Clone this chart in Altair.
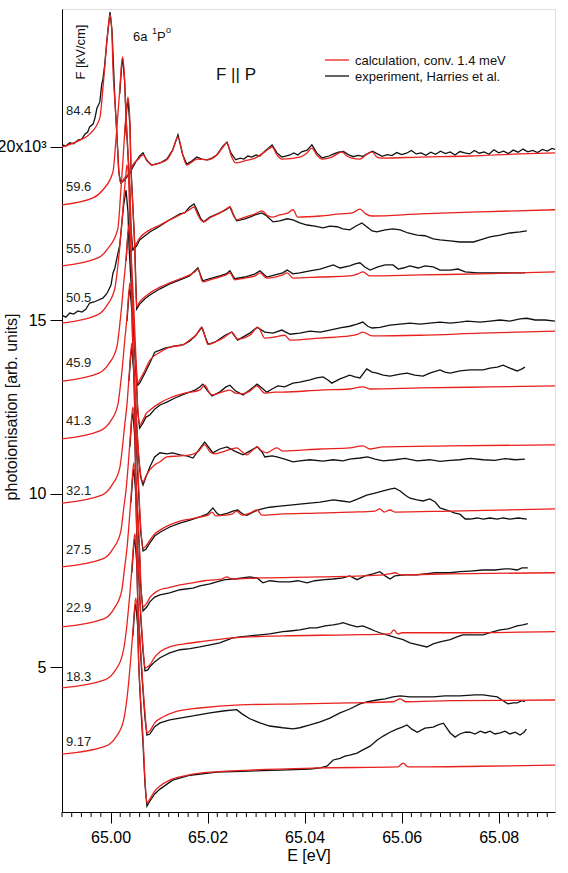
import altair as alt
import pandas as pd

FONT = "Liberation Sans"

# Field strengths [kV/cm] labelling each spectrum, vertical offsets (x10^3) and label heights
FIELDS = ["84.4", "59.6", "55.0", "50.5", "45.9", "41.3", "32.1", "27.5", "22.9", "18.3", "9.17"]
OFFSETS = [20.00, 18.33, 16.57, 14.92, 13.25, 11.58, 9.73, 7.89, 6.16, 4.40, 2.49]
LABEL_Y = [21.04, 18.85, 17.06, 15.64, 13.77, 12.10, 10.08, 8.38, 6.70, 4.71, 2.84]

# ---- calculation (red) and experiment (black), pairs of (E [eV], signal relative to offset) ----
CALC_84_4 = [(64.9900, 0.00), (64.9937, 0.20), (64.9957, 0.37), (64.9978, 0.84), (64.9984, 1.64), (64.9988, 2.28),
             (64.9992, 2.97), (64.9997, 3.66), (64.9999, 3.81), (65.0003, 3.23), (65.0005, 2.28), (65.0009, 1.33),
             (65.0013, 0.37), (65.0017, -0.66), (65.0021, -1.04), (65.0029, -0.89), (65.0040, -0.72), (65.0046, -0.52),
             (65.0056, -0.37), (65.0067, -0.23), (65.0075, -0.37), (65.0085, -0.52), (65.0102, -0.46), (65.0116, -0.37),
             (65.0128, -0.09), (65.0139, 0.29), (65.0149, -0.23), (65.0157, -0.52), (65.0168, -0.43), (65.0178, -0.35),
             (65.0199, -0.37), (65.0219, -0.23), (65.0232, 0.00), (65.0240, 0.12), (65.0248, -0.23), (65.0258, -0.46),
             (65.0277, -0.40), (65.0298, -0.32), (65.0318, -0.14), (65.0333, 0.00), (65.0343, -0.23), (65.0353, -0.35),
             (65.0390, -0.29), (65.0405, -0.17), (65.0415, -0.03), (65.0425, -0.23), (65.0436, -0.35), (65.0456, -0.29),
             (65.0477, -0.14), (65.0487, -0.26), (65.0497, -0.32), (65.0514, -0.35), (65.0526, -0.23), (65.0539, -0.14),
             (65.0549, -0.29), (65.0559, -0.32), (65.0638, -0.29), (65.0741, -0.26), (65.0844, -0.20), (65.0916, -0.17)]
EXP_84_4 = [(64.9900, 0.06), (64.9908, 0.03), (64.9916, 0.12), (64.9924, 0.09), (64.9933, 0.20), (64.9941, 0.23),
            (64.9947, 0.37), (64.9953, 0.43), (64.9957, 0.58), (64.9964, 0.66), (64.9968, 0.84), (64.9972, 1.12),
            (64.9978, 1.30), (64.9982, 1.82), (64.9984, 1.93), (64.9988, 2.36), (64.9992, 3.00), (64.9999, 3.89),
            (65.0003, 3.37), (65.0009, 1.36), (65.0013, 0.40), (65.0017, -0.72), (65.0021, -1.04), (65.0029, -0.95),
            (65.0040, -0.75), (65.0046, -0.58), (65.0052, -0.43), (65.0060, -0.26), (65.0067, -0.17), (65.0075, -0.40),
            (65.0085, -0.52), (65.0102, -0.46), (65.0116, -0.35), (65.0128, -0.09), (65.0139, 0.35), (65.0149, -0.23),
            (65.0157, -0.49), (65.0168, -0.40), (65.0178, -0.29), (65.0188, -0.35), (65.0199, -0.37), (65.0209, -0.32),
            (65.0219, -0.23), (65.0232, 0.03), (65.0240, 0.14), (65.0248, -0.17), (65.0258, -0.37), (65.0267, -0.32),
            (65.0275, -0.35), (65.0283, -0.26), (65.0291, -0.29), (65.0300, -0.23), (65.0308, -0.26), (65.0318, -0.12),
            (65.0333, 0.06), (65.0343, -0.17), (65.0353, -0.29), (65.0361, -0.26), (65.0370, -0.23), (65.0378, -0.17),
            (65.0386, -0.23), (65.0394, -0.14), (65.0405, -0.09), (65.0415, 0.06), (65.0425, -0.17), (65.0436, -0.32),
            (65.0440, -0.30), (65.0450, -0.26), (65.0460, -0.20), (65.0470, -0.15), (65.0480, -0.13), (65.0490, -0.22),
            (65.0500, -0.28), (65.0510, -0.24), (65.0520, -0.27), (65.0530, -0.19), (65.0540, -0.12), (65.0550, -0.20),
            (65.0560, -0.27), (65.0570, -0.22), (65.0580, -0.25), (65.0590, -0.16), (65.0600, -0.22), (65.0610, -0.18),
            (65.0620, -0.10), (65.0630, -0.20), (65.0640, -0.17), (65.0650, -0.24), (65.0660, -0.15), (65.0670, -0.21),
            (65.0680, -0.12), (65.0690, -0.19), (65.0700, -0.14), (65.0710, -0.23), (65.0720, -0.13), (65.0730, -0.17),
            (65.0740, -0.20), (65.0750, -0.10), (65.0760, -0.18), (65.0770, -0.14), (65.0780, -0.21), (65.0790, -0.08),
            (65.0800, -0.17), (65.0810, -0.12), (65.0820, -0.19), (65.0830, -0.09), (65.0840, -0.15), (65.0850, -0.06),
            (65.0860, -0.14), (65.0870, -0.10), (65.0880, -0.16), (65.0890, -0.07), (65.0900, -0.12), (65.0910, -0.04),
            (65.0916, -0.07)]

CALC_59_6 = [(64.9900, 0.00), (64.9964, 0.20), (64.9984, 0.43), (65.0005, 0.95), (65.0011, 1.85), (65.0015, 2.57),
             (65.0019, 3.32), (65.0023, 4.10), (65.0025, 4.27), (65.0029, 3.63), (65.0032, 2.57), (65.0036, 1.50),
             (65.0040, 0.43), (65.0042, -0.58), (65.0046, -1.24), (65.0054, -1.10), (65.0060, -0.95), (65.0071, -0.81),
             (65.0081, -0.72), (65.0102, -0.58), (65.0122, -0.43), (65.0143, -0.29), (65.0163, -0.14), (65.0172, -0.06),
             (65.0178, -0.23), (65.0186, -0.43), (65.0192, -0.49), (65.0205, -0.37), (65.0225, -0.23), (65.0238, -0.12),
             (65.0246, -0.06), (65.0254, -0.29), (65.0260, -0.43), (65.0277, -0.35), (65.0298, -0.26), (65.0312, -0.17),
             (65.0322, -0.29), (65.0333, -0.35), (65.0349, -0.29), (65.0366, -0.23), (65.0376, -0.14), (65.0386, -0.35),
             (65.0432, -0.32), (65.0473, -0.26), (65.0498, -0.23), (65.0514, -0.12), (65.0526, -0.26), (65.0539, -0.32),
             (65.0638, -0.26), (65.0762, -0.20), (65.0916, -0.14)]
EXP_59_6 = [(65.0019, 3.20), (65.0023, 4.04), (65.0025, 4.21), (65.0029, 3.58), (65.0032, 2.50), (65.0036, 1.44),
            (65.0040, 0.35), (65.0042, -0.66), (65.0046, -1.30), (65.0054, -1.18), (65.0060, -1.01), (65.0071, -0.89),
            (65.0081, -0.78), (65.0102, -0.61), (65.0122, -0.43), (65.0143, -0.26), (65.0153, -0.23), (65.0163, -0.06),
            (65.0172, 0.03), (65.0178, -0.14), (65.0186, -0.40), (65.0192, -0.49), (65.0205, -0.35), (65.0225, -0.23),
            (65.0238, -0.14), (65.0246, -0.06), (65.0254, -0.32), (65.0260, -0.46), (65.0277, -0.40), (65.0287, -0.35),
            (65.0298, -0.29), (65.0312, -0.23), (65.0322, -0.32), (65.0335, -0.49), (65.0349, -0.46), (65.0364, -0.40),
            (65.0376, -0.43), (65.0390, -0.52), (65.0405, -0.58), (65.0421, -0.61), (65.0438, -0.66), (65.0452, -0.61),
            (65.0467, -0.63), (65.0479, -0.69), (65.0493, -0.72), (65.0506, -0.61), (65.0518, -0.52), (65.0528, -0.63),
            (65.0539, -0.75), (65.0549, -0.78), (65.0566, -0.72), (65.0582, -0.69), (65.0597, -0.72), (65.0613, -0.81),
            (65.0632, -0.87), (65.0648, -0.89), (65.0665, -0.98), (65.0679, -1.01), (65.0700, -1.04), (65.0720, -1.07),
            (65.0748, -1.07), (65.0762, -1.01), (65.0782, -0.92), (65.0803, -0.87), (65.0823, -0.81), (65.0844, -0.78),
            (65.0858, -0.75)]

CALC_55_0 = [(64.9900, 0.00), (64.9974, 0.23), (64.9994, 0.49), (65.0015, 1.07), (65.0021, 2.11), (65.0025, 2.91),
             (65.0029, 3.81), (65.0034, 4.67), (65.0036, 4.87), (65.0040, 4.15), (65.0042, 2.91), (65.0046, 1.70),
             (65.0050, 0.49), (65.0052, -0.58), (65.0054, -1.18), (65.0060, -1.04), (65.0071, -0.89), (65.0081, -0.78),
             (65.0102, -0.61), (65.0122, -0.49), (65.0143, -0.37), (65.0163, -0.26), (65.0174, -0.17), (65.0180, -0.09),
             (65.0190, -0.46), (65.0205, -0.40), (65.0225, -0.32), (65.0238, -0.26), (65.0246, -0.20), (65.0256, -0.40),
             (65.0277, -0.35), (65.0298, -0.29), (65.0308, -0.20), (65.0322, -0.35), (65.0339, -0.32), (65.0355, -0.26),
             (65.0364, -0.20), (65.0376, -0.35), (65.0432, -0.32), (65.0493, -0.29), (65.0510, -0.23), (65.0520, -0.17),
             (65.0535, -0.29), (65.0638, -0.26), (65.0762, -0.23), (65.0916, -0.17)]
EXP_55_0 = [(65.0029, 3.75), (65.0034, 4.61), (65.0036, 4.79), (65.0040, 4.04), (65.0042, 2.88), (65.0046, 1.73),
            (65.0050, 0.58), (65.0052, -0.43), (65.0054, -1.24), (65.0060, -1.10), (65.0071, -0.95), (65.0081, -0.84),
            (65.0102, -0.66), (65.0122, -0.52), (65.0143, -0.40), (65.0163, -0.29), (65.0174, -0.14), (65.0180, -0.06),
            (65.0190, -0.43), (65.0205, -0.37), (65.0225, -0.29), (65.0238, -0.23), (65.0246, -0.14), (65.0256, -0.37),
            (65.0277, -0.32), (65.0298, -0.23), (65.0308, -0.14), (65.0322, -0.32), (65.0339, -0.26), (65.0355, -0.20),
            (65.0364, -0.12), (65.0376, -0.23), (65.0390, -0.20), (65.0411, -0.14), (65.0432, -0.09), (65.0459, 0.03),
            (65.0473, -0.06), (65.0493, 0.00), (65.0504, 0.06), (65.0514, 0.09), (65.0524, -0.03), (65.0535, -0.12),
            (65.0551, -0.03), (65.0566, 0.03), (65.0582, 0.03), (65.0593, -0.09), (65.0603, -0.06), (65.0617, 0.00),
            (65.0634, -0.06), (65.0648, 0.00), (65.0665, -0.03), (65.0679, -0.12), (65.0700, -0.12), (65.0716, -0.09),
            (65.0731, -0.17), (65.0756, -0.20), (65.0782, -0.20), (65.0803, -0.20), (65.0823, -0.20), (65.0854, -0.20)]

CALC_50_5 = [(64.9900, 0.00), (64.9972, 0.23), (64.9992, 0.50), (65.0009, 1.01), (65.0015, 1.64), (65.0019, 2.19),
             (65.0023, 2.83), (65.0027, 3.55), (65.0032, 4.33), (65.0034, 4.56), (65.0038, 3.86), (65.0040, 2.74),
             (65.0044, 1.59), (65.0048, 0.46), (65.0052, -0.87), (65.0056, -1.73), (65.0060, -1.64), (65.0071, -1.36),
             (65.0081, -1.07), (65.0102, -0.84), (65.0122, -0.69), (65.0149, -0.63), (65.0163, -0.49), (65.0176, -0.35),
             (65.0188, -0.12), (65.0201, -0.61), (65.0215, -0.55), (65.0236, -0.40), (65.0250, -0.26), (65.0262, -0.46),
             (65.0287, -0.35), (65.0304, -0.12), (65.0318, -0.43), (65.0339, -0.40), (65.0359, -0.35), (65.0370, -0.49),
             (65.0432, -0.43), (65.0493, -0.37), (65.0510, -0.32), (65.0520, -0.26), (65.0539, -0.37), (65.0638, -0.35),
             (65.0762, -0.29), (65.0916, -0.23)]
EXP_50_5 = [(64.9900, 0.23), (64.9908, 0.17), (64.9916, 0.29), (64.9924, 0.26), (64.9933, 0.35), (64.9941, 0.32),
            (64.9949, 0.40), (64.9957, 0.58), (64.9966, 0.61), (64.9974, 0.66), (64.9984, 0.72), (64.9990, 0.81),
            (64.9994, 0.89), (65.0001, 1.10), (65.0005, 1.44), (65.0009, 1.59), (65.0013, 1.87), (65.0019, 2.25),
            (65.0023, 2.83), (65.0027, 3.40), (65.0032, 3.84), (65.0036, 3.20), (65.0038, 2.25), (65.0042, 1.24),
            (65.0046, 0.23), (65.0050, -0.78), (65.0054, -1.59), (65.0056, -1.79), (65.0060, -1.73), (65.0071, -1.44),
            (65.0081, -1.15), (65.0091, -0.84), (65.0102, -0.78), (65.0112, -0.72), (65.0122, -0.69), (65.0133, -0.66),
            (65.0149, -0.63), (65.0163, -0.52), (65.0176, -0.35), (65.0188, -0.12), (65.0201, -0.61), (65.0215, -0.55),
            (65.0236, -0.35), (65.0250, -0.26), (65.0262, -0.49), (65.0287, -0.29), (65.0302, -0.12), (65.0318, -0.26),
            (65.0335, -0.29), (65.0353, -0.20), (65.0370, -0.32), (65.0390, -0.29), (65.0411, -0.23), (65.0432, -0.26),
            (65.0452, -0.20), (65.0473, -0.14), (65.0493, -0.09), (65.0508, -0.03), (65.0520, 0.03), (65.0530, -0.09),
            (65.0539, -0.14), (65.0555, -0.12), (65.0576, -0.06), (65.0597, -0.03), (65.0617, 0.00), (65.0638, -0.03),
            (65.0658, 0.00), (65.0679, 0.03), (65.0700, 0.00), (65.0720, 0.03), (65.0735, 0.06), (65.0762, 0.03),
            (65.0782, 0.06), (65.0803, 0.09), (65.0823, 0.06), (65.0844, 0.12), (65.0858, 0.14), (65.0875, 0.09),
            (65.0896, 0.09), (65.0916, 0.06)]

CALC_45_9 = [(64.9900, 0.00), (64.9976, 0.23), (64.9996, 0.49), (65.0013, 0.98), (65.0019, 1.62), (65.0023, 2.16),
             (65.0027, 2.80), (65.0032, 3.52), (65.0036, 4.27), (65.0038, 4.50), (65.0042, 3.84), (65.0044, 2.71),
             (65.0048, 1.59), (65.0052, 0.46), (65.0056, -0.75), (65.0060, -1.27), (65.0067, -1.12), (65.0073, -0.95),
             (65.0081, -0.84), (65.0102, -0.63), (65.0122, -0.49), (65.0153, -0.35), (65.0184, -0.26), (65.0194, -0.12),
             (65.0203, -0.32), (65.0209, -0.40), (65.0229, -0.32), (65.0246, -0.26), (65.0258, -0.35), (65.0273, -0.37),
             (65.0287, -0.29), (65.0302, -0.14), (65.0312, -0.29), (65.0318, -0.35), (65.0339, -0.32), (65.0355, -0.32),
             (65.0432, -0.26), (65.0493, -0.23), (65.0520, -0.17), (65.0535, -0.23), (65.0638, -0.20), (65.0782, -0.17),
             (65.0916, -0.14)]
EXP_45_9 = [(65.0032, 3.46), (65.0036, 4.27), (65.0038, 4.38), (65.0042, 3.75), (65.0044, 2.65), (65.0048, 1.50),
            (65.0052, 0.35), (65.0056, -0.87), (65.0060, -1.36), (65.0067, -1.21), (65.0073, -1.04), (65.0081, -0.98),
            (65.0091, -0.81), (65.0102, -0.69), (65.0116, -0.61), (65.0133, -0.49), (65.0153, -0.37), (65.0174, -0.26),
            (65.0184, -0.17), (65.0190, -0.09), (65.0199, -0.26), (65.0209, -0.43), (65.0225, -0.32), (65.0238, -0.17),
            (65.0246, -0.12), (65.0258, -0.29), (65.0273, -0.40), (65.0287, -0.26), (65.0302, -0.09), (65.0312, -0.20),
            (65.0322, -0.32), (65.0333, -0.23), (65.0345, -0.14), (65.0359, -0.17), (65.0376, -0.06), (65.0390, -0.03),
            (65.0411, 0.03), (65.0425, 0.09), (65.0438, 0.12), (65.0448, 0.03), (65.0456, -0.06), (65.0473, 0.06),
            (65.0493, 0.17), (65.0504, 0.12), (65.0514, 0.09), (65.0528, 0.35), (65.0539, 0.26), (65.0549, 0.23),
            (65.0562, 0.17), (65.0576, 0.14), (65.0597, 0.20), (65.0611, 0.23), (65.0627, 0.17), (65.0644, 0.14),
            (65.0658, 0.23), (65.0679, 0.32), (65.0689, 0.26), (65.0700, 0.23), (65.0720, 0.29), (65.0741, 0.32),
            (65.0768, 0.32), (65.0782, 0.37), (65.0797, 0.40), (65.0809, 0.46), (65.0823, 0.37), (65.0838, 0.29),
            (65.0848, 0.35), (65.0854, 0.40)]

CALC_41_3 = [(64.9900, 0.00), (64.9978, 0.23), (64.9999, 0.49), (65.0015, 0.98), (65.0021, 1.62), (65.0025, 2.16),
             (65.0029, 2.80), (65.0034, 3.52), (65.0038, 4.27), (65.0040, 4.50), (65.0044, 3.84), (65.0046, 2.71),
             (65.0050, 1.59), (65.0054, 0.46), (65.0058, -0.43), (65.0062, -1.01), (65.0067, -1.24), (65.0073, -1.07),
             (65.0081, -0.89), (65.0091, -0.75), (65.0102, -0.66), (65.0116, -0.52), (65.0143, -0.49), (65.0164, -0.46),
             (65.0180, -0.37), (65.0194, -0.17), (65.0205, -0.37), (65.0215, -0.43), (65.0236, -0.35), (65.0250, -0.29),
             (65.0260, -0.26), (65.0271, -0.37), (65.0281, -0.46), (65.0291, -0.35), (65.0302, -0.23), (65.0312, -0.35),
             (65.0322, -0.40), (65.0333, -0.32), (65.0343, -0.26), (65.0355, -0.35), (65.0432, -0.29), (65.0493, -0.26),
             (65.0520, -0.20), (65.0535, -0.29), (65.0562, -0.23), (65.0700, -0.20), (65.0916, -0.17)]
EXP_41_3 = [(65.0034, 3.40), (65.0038, 4.21), (65.0040, 4.33), (65.0044, 3.69), (65.0046, 2.60), (65.0050, 1.44),
            (65.0054, 0.35), (65.0058, -0.58), (65.0062, -1.10), (65.0067, -1.33), (65.0073, -1.10), (65.0081, -0.81),
            (65.0091, -0.52), (65.0102, -0.40), (65.0116, -0.43), (65.0128, -0.40), (65.0143, -0.46), (65.0157, -0.49),
            (65.0170, -0.55), (65.0180, -0.35), (65.0194, -0.09), (65.0205, -0.29), (65.0211, -0.40), (65.0225, -0.29),
            (65.0240, -0.23), (65.0256, -0.35), (65.0273, -0.46), (65.0287, -0.35), (65.0302, -0.23), (65.0312, -0.37),
            (65.0318, -0.52), (65.0333, -0.49), (65.0343, -0.52), (65.0359, -0.58), (65.0376, -0.66), (65.0390, -0.63),
            (65.0411, -0.60), (65.0438, -0.64), (65.0459, -0.60), (65.0479, -0.63), (65.0493, -0.58), (65.0514, -0.55),
            (65.0530, -0.52), (65.0545, -0.58), (65.0562, -0.63), (65.0586, -0.60), (65.0607, -0.56), (65.0632, -0.63),
            (65.0658, -0.60), (65.0679, -0.65), (65.0700, -0.62), (65.0720, -0.60), (65.0741, -0.56), (65.0768, -0.60),
            (65.0792, -0.62), (65.0813, -0.57), (65.0834, -0.60), (65.0854, -0.58)]

CALC_32_1 = [(64.9900, 0.00), (64.9982, 0.23), (65.0003, 0.52), (65.0019, 1.01), (65.0025, 1.67), (65.0029, 2.22),
             (65.0034, 2.86), (65.0038, 3.61), (65.0042, 4.38), (65.0044, 4.61), (65.0048, 3.92), (65.0050, 2.77),
             (65.0054, 1.62), (65.0058, 0.46), (65.0062, -0.63), (65.0067, -1.30), (65.0073, -1.24), (65.0081, -1.07),
             (65.0091, -0.89), (65.0102, -0.78), (65.0122, -0.63), (65.0143, -0.52), (65.0164, -0.46), (65.0184, -0.40),
             (65.0201, -0.35), (65.0209, -0.26), (65.0217, -0.37), (65.0236, -0.35), (65.0250, -0.32), (65.0260, -0.23),
             (65.0271, -0.35), (65.0287, -0.29), (65.0302, -0.20), (65.0312, -0.35), (65.0349, -0.32), (65.0425, -0.29),
             (65.0493, -0.26), (65.0545, -0.23), (65.0555, -0.17), (65.0564, -0.26), (65.0576, -0.20), (65.0586, -0.26),
             (65.0700, -0.23), (65.0916, -0.17)]
EXP_32_1 = [(65.0038, 3.52), (65.0042, 4.33), (65.0044, 4.47), (65.0048, 3.75), (65.0050, 2.60), (65.0054, 1.44),
            (65.0058, 0.29), (65.0062, -0.81), (65.0067, -1.38), (65.0073, -1.33), (65.0081, -1.15), (65.0091, -0.95),
            (65.0102, -0.84), (65.0122, -0.69), (65.0143, -0.58), (65.0164, -0.49), (65.0184, -0.40), (65.0199, -0.32),
            (65.0211, -0.14), (65.0219, -0.29), (65.0225, -0.35), (65.0242, -0.29), (65.0252, -0.23), (65.0262, -0.20),
            (65.0273, -0.32), (65.0281, -0.35), (65.0298, -0.23), (65.0312, -0.17), (65.0328, -0.12), (65.0349, -0.09),
            (65.0370, -0.06), (65.0390, -0.03), (65.0411, 0.00), (65.0432, 0.03), (65.0459, 0.09), (65.0477, 0.06),
            (65.0493, 0.03), (65.0510, 0.12), (65.0528, 0.23), (65.0545, 0.29), (65.0562, 0.35), (65.0576, 0.40),
            (65.0586, 0.43), (65.0597, 0.35), (65.0607, 0.23), (65.0617, 0.14), (65.0632, 0.09), (65.0644, 0.06),
            (65.0658, 0.12), (65.0669, 0.03), (65.0679, -0.14), (65.0693, -0.20), (65.0710, -0.29), (65.0720, -0.32),
            (65.0731, -0.46), (65.0741, -0.46), (65.0756, -0.43), (65.0768, -0.46), (65.0782, -0.43), (65.0797, -0.46),
            (65.0809, -0.43), (65.0823, -0.46), (65.0840, -0.43), (65.0858, -0.46)]

CALC_27_5 = [(64.9900, 0.00), (64.9984, 0.23), (65.0005, 0.52), (65.0021, 1.01), (65.0027, 1.67), (65.0032, 2.22),
             (65.0036, 2.86), (65.0040, 3.61), (65.0044, 4.38), (65.0046, 4.61), (65.0050, 3.92), (65.0052, 2.77),
             (65.0056, 1.62), (65.0060, 0.46), (65.0062, -0.29), (65.0067, -1.15), (65.0075, -1.04), (65.0081, -0.89),
             (65.0091, -0.75), (65.0102, -0.66), (65.0116, -0.61), (65.0143, -0.52), (65.0170, -0.46), (65.0194, -0.40),
             (65.0219, -0.37), (65.0229, -0.35), (65.0240, -0.29), (65.0250, -0.35), (65.0308, -0.32), (65.0432, -0.29),
             (65.0562, -0.23), (65.0576, -0.20), (65.0586, -0.17), (65.0597, -0.23), (65.0700, -0.20), (65.0916, -0.17)]
EXP_27_5 = [(65.0040, 3.46), (65.0044, 4.33), (65.0046, 4.44), (65.0050, 3.75), (65.0052, 2.60), (65.0056, 1.44),
            (65.0060, 0.29), (65.0062, -0.52), (65.0067, -1.27), (65.0075, -1.15), (65.0081, -1.01), (65.0091, -0.87),
            (65.0102, -0.81), (65.0122, -0.75), (65.0143, -0.66), (65.0170, -0.61), (65.0184, -0.55), (65.0205, -0.49),
            (65.0219, -0.43), (65.0236, -0.37), (65.0256, -0.35), (65.0287, -0.29), (65.0302, -0.32), (65.0314, -0.46),
            (65.0328, -0.40), (65.0349, -0.43), (65.0370, -0.43), (65.0386, -0.40), (65.0405, -0.46), (65.0421, -0.40),
            (65.0442, -0.37), (65.0459, -0.35), (65.0479, -0.32), (65.0493, -0.26), (65.0508, -0.37), (65.0524, -0.26),
            (65.0541, -0.20), (65.0555, -0.14), (65.0566, -0.26), (65.0576, -0.35), (65.0586, -0.26), (65.0607, -0.23),
            (65.0632, -0.23), (65.0648, -0.20), (65.0669, -0.17), (65.0700, -0.17), (65.0720, -0.14), (65.0741, -0.12),
            (65.0768, -0.09), (65.0792, -0.09), (65.0813, -0.06), (65.0823, -0.06), (65.0838, -0.09), (65.0848, -0.03),
            (65.0860, -0.03)]

CALC_22_9 = [(64.9900, 0.00), (64.9986, 0.23), (65.0007, 0.52), (65.0023, 1.04), (65.0029, 1.70), (65.0034, 2.28),
             (65.0038, 2.94), (65.0042, 3.69), (65.0046, 4.50), (65.0048, 4.73), (65.0052, 4.01), (65.0054, 2.83),
             (65.0058, 1.64), (65.0062, 0.46), (65.0067, -0.58), (65.0071, -1.18), (65.0077, -1.15), (65.0081, -1.10),
             (65.0091, -0.87), (65.0102, -0.72), (65.0122, -0.58), (65.0153, -0.49), (65.0184, -0.43), (65.0252, -0.32),
             (65.0355, -0.26), (65.0493, -0.23), (65.0576, -0.20), (65.0584, -0.09), (65.0592, -0.20), (65.0601, -0.17),
             (65.0700, -0.17), (65.0916, -0.14)]
EXP_22_9 = [(65.0042, 3.58), (65.0046, 4.38), (65.0048, 4.56), (65.0052, 3.86), (65.0054, 2.71), (65.0058, 1.50),
            (65.0062, 0.35), (65.0067, -0.72), (65.0071, -1.27), (65.0077, -1.24), (65.0081, -1.15), (65.0091, -1.01),
            (65.0102, -0.89), (65.0122, -0.75), (65.0143, -0.66), (65.0164, -0.63), (65.0184, -0.58), (65.0205, -0.52),
            (65.0225, -0.46), (65.0252, -0.32), (65.0267, -0.29), (65.0287, -0.26), (65.0308, -0.23), (65.0328, -0.20),
            (65.0355, -0.14), (65.0370, -0.12), (65.0390, -0.09), (65.0411, -0.03), (65.0425, -0.03), (65.0442, 0.03),
            (65.0459, 0.06), (65.0473, 0.09), (65.0479, 0.12), (65.0493, 0.06), (65.0508, 0.00), (65.0520, 0.03),
            (65.0535, -0.06), (65.0545, -0.12), (65.0555, -0.17), (65.0576, -0.26), (65.0590, -0.32), (65.0603, -0.37),
            (65.0617, -0.46), (65.0634, -0.52), (65.0652, -0.58), (65.0665, -0.49), (65.0679, -0.43), (65.0700, -0.37),
            (65.0714, -0.29), (65.0726, -0.23), (65.0751, -0.23), (65.0768, -0.23), (65.0782, -0.17), (65.0803, -0.09),
            (65.0819, -0.06), (65.0838, 0.03), (65.0850, 0.06), (65.0860, 0.09)]

CALC_18_3 = [(64.9900, 0.00), (64.9988, 0.23), (65.0009, 0.49), (65.0025, 0.98), (65.0032, 1.59), (65.0036, 2.13),
             (65.0040, 2.74), (65.0044, 3.46), (65.0048, 4.21), (65.0050, 4.44), (65.0054, 3.78), (65.0056, 2.65),
             (65.0060, 1.56), (65.0065, 0.43), (65.0071, -0.72), (65.0075, -1.30), (65.0081, -1.24), (65.0091, -1.01),
             (65.0108, -0.84), (65.0133, -0.69), (65.0184, -0.58), (65.0267, -0.49), (65.0390, -0.46), (65.0493, -0.43),
             (65.0582, -0.40), (65.0597, -0.32), (65.0609, -0.40), (65.0700, -0.37), (65.0916, -0.35)]
EXP_18_3 = [(65.0044, 3.32), (65.0048, 4.15), (65.0050, 4.30), (65.0054, 3.63), (65.0056, 2.54), (65.0060, 1.44),
            (65.0065, 0.29), (65.0071, -0.87), (65.0075, -1.36), (65.0081, -1.33), (65.0091, -1.12), (65.0102, -1.01),
            (65.0122, -0.92), (65.0143, -0.87), (65.0170, -0.81), (65.0205, -0.72), (65.0236, -0.66), (65.0260, -0.63),
            (65.0271, -0.75), (65.0287, -0.89), (65.0308, -1.01), (65.0328, -1.10), (65.0355, -1.15), (65.0376, -1.18),
            (65.0390, -1.15), (65.0411, -1.07), (65.0432, -0.98), (65.0452, -0.87), (65.0473, -0.72), (65.0493, -0.61),
            (65.0514, -0.46), (65.0530, -0.40), (65.0549, -0.35), (65.0566, -0.32), (65.0582, -0.26), (65.0597, -0.23),
            (65.0617, -0.26), (65.0638, -0.26), (65.0665, -0.26), (65.0689, -0.23), (65.0720, -0.23), (65.0751, -0.20),
            (65.0768, -0.20), (65.0782, -0.23), (65.0797, -0.26), (65.0809, -0.37), (65.0819, -0.46), (65.0830, -0.43),
            (65.0838, -0.43), (65.0848, -0.37), (65.0854, -0.40)]

CALC_9_17 = [(64.9900, 0.00), (64.9990, 0.23), (65.0011, 0.49), (65.0027, 0.98), (65.0034, 1.62), (65.0038, 2.16),
             (65.0042, 2.80), (65.0046, 3.52), (65.0050, 4.27), (65.0052, 4.50), (65.0056, 3.84), (65.0058, 2.71),
             (65.0062, 1.59), (65.0067, 0.46), (65.0071, -0.72), (65.0075, -1.41), (65.0081, -1.30), (65.0091, -1.07),
             (65.0102, -0.92), (65.0122, -0.75), (65.0153, -0.63), (65.0184, -0.55), (65.0287, -0.46), (65.0425, -0.40),
             (65.0592, -0.37), (65.0603, -0.26), (65.0613, -0.37), (65.0632, -0.37), (65.0762, -0.35), (65.0916, -0.32)]
EXP_9_17 = [(65.0046, 3.40), (65.0050, 4.21), (65.0052, 4.33), (65.0056, 3.69), (65.0058, 2.60), (65.0062, 1.44),
            (65.0067, 0.29), (65.0071, -0.87), (65.0075, -1.50), (65.0081, -1.36), (65.0091, -1.15), (65.0102, -1.01),
            (65.0128, -0.75), (65.0164, -0.61), (65.0219, -0.52), (65.0287, -0.49), (65.0349, -0.46), (65.0411, -0.43),
            (65.0432, -0.40), (65.0446, -0.35), (65.0459, -0.17), (65.0473, -0.12), (65.0483, -0.06), (65.0493, -0.03),
            (65.0508, 0.03), (65.0520, 0.12), (65.0535, 0.23), (65.0549, 0.40), (65.0562, 0.52), (65.0576, 0.63),
            (65.0590, 0.72), (65.0601, 0.78), (65.0611, 0.84), (65.0621, 0.72), (65.0632, 0.63), (65.0648, 0.75),
            (65.0665, 0.78), (65.0675, 0.84), (65.0686, 0.89), (65.0693, 0.75), (65.0700, 0.61), (65.0710, 0.49),
            (65.0720, 0.58), (65.0731, 0.63), (65.0741, 0.63), (65.0751, 0.58), (65.0762, 0.66), (65.0772, 0.61),
            (65.0782, 0.66), (65.0792, 0.58), (65.0803, 0.61), (65.0813, 0.66), (65.0823, 0.58), (65.0834, 0.63),
            (65.0844, 0.55), (65.0852, 0.63), (65.0857, 0.72)]

CALC = [CALC_84_4, CALC_59_6, CALC_55_0, CALC_50_5, CALC_45_9, CALC_41_3,
        CALC_32_1, CALC_27_5, CALC_22_9, CALC_18_3, CALC_9_17]
EXP = [EXP_84_4, EXP_59_6, EXP_55_0, EXP_50_5, EXP_45_9, EXP_41_3,
       EXP_32_1, EXP_27_5, EXP_22_9, EXP_18_3, EXP_9_17]

X_DOMAIN = [64.990, 65.0916]
Y_DOMAIN = [0.82, 23.98]
Y_TICKS = [5, 10, 15, 20]
X_MAJOR = [65.00, 65.02, 65.04, 65.06, 65.08]
X_MINOR = [64.990, 64.992, 64.994, 64.996, 64.998, 65.002, 65.004, 65.006, 65.008, 65.010,
           65.012, 65.014, 65.016, 65.018, 65.022, 65.024, 65.026, 65.028, 65.030, 65.032,
           65.034, 65.036, 65.038, 65.042, 65.044, 65.046, 65.048, 65.050, 65.052, 65.054,
           65.056, 65.058, 65.062, 65.064, 65.066, 65.068, 65.070, 65.072, 65.074, 65.076,
           65.078, 65.082, 65.084, 65.086, 65.088, 65.090]

rows_c, rows_e, rows_l = [], [], []
for f, off, c, e, ly in zip(FIELDS, OFFSETS, CALC, EXP, LABEL_Y):
    for x, v in c:
        rows_c.append({"E": x, "I": round(off + v, 3), "curve": f})
    for x, v in e:
        rows_e.append({"E": x, "I": round(off + v, 3), "curve": f})
    rows_l.append({"label": f, "I": ly})
df_c = pd.DataFrame(rows_c)
df_e = pd.DataFrame(rows_e)
df_l = pd.DataFrame(rows_l)
df_minor = pd.DataFrame({"E": X_MINOR})

W, H = 493, 803
xs = alt.Scale(domain=X_DOMAIN, nice=False, zero=False)
ys = alt.Scale(domain=Y_DOMAIN, nice=False, zero=False)

xaxis = alt.Axis(
    values=X_MAJOR, format=".2f", title="E [eV]", grid=False, tickSize=11,
    labelFont=FONT, labelFontSize=16, labelColor="#000", labelPadding=6,
    labelOverlap=False, labelFlush=False,
    titleFont=FONT, titleFontSize=16, titleFontWeight="normal", titleColor="#000", titlePadding=2,
    domainColor="#000", tickColor="#000", domainWidth=1, tickWidth=1,
)
yaxis = alt.Axis(
    values=Y_TICKS, title=None, grid=False,
    labelExpr="datum.value == 20 ? '20x10\u00b3' : datum.value",
    tickSize=12, labelFont=FONT, labelFontSize=16, labelColor="#000", labelPadding=4,
    domainColor="#000", tickColor="#000", domainWidth=1, tickWidth=1,
)

exp_layer = alt.Chart(df_e).mark_line(color="#111111", strokeWidth=1.3, clip=True).encode(
    x=alt.X("E:Q", scale=xs, axis=xaxis),
    y=alt.Y("I:Q", scale=ys, axis=yaxis),
    detail="curve:N",
)
calc_layer = alt.Chart(df_c).mark_line(color="#e8211d", strokeWidth=1.3, clip=True,
                                       interpolate="monotone").encode(
    x=alt.X("E:Q", scale=xs, axis=xaxis),
    y=alt.Y("I:Q", scale=ys, axis=yaxis),
    detail="curve:N",
)
minor_layer = alt.Chart(df_minor).mark_rule(color="#000", strokeWidth=1).encode(
    x=alt.X("E:Q", scale=xs, axis=xaxis),
    y=alt.value(H), y2=alt.value(H + 5),
)
labels = alt.Chart(df_l).mark_text(align="left", baseline="middle", font=FONT, fontSize=13, color="#222").encode(
    x=alt.value(4),
    y=alt.Y("I:Q", scale=ys, axis=yaxis),
    text="label:N",
)

ann = pd.DataFrame([
    {"t": "F [kV/cm]", "px": 19, "py": 43, "a": 270, "s": 13},
    {"t": "photoionisation [arb. units]", "px": -50, "py": 398, "a": 270, "s": 16},
    {"t": "F || P", "px": 174, "py": 66, "a": 0, "s": 17},
])
ann_layer = alt.Chart(ann).mark_text(align="center", baseline="middle", font=FONT, color="#111").encode(
    x=alt.X("px:Q", scale=None), y=alt.Y("py:Q", scale=None), text="t:N",
    angle=alt.Angle("a:Q", scale=None), size=alt.Size("s:Q", scale=None),
)

sup = pd.DataFrame([
    {"t": "6a", "px": 71, "py": 32, "s": 13},
    {"t": "1", "px": 90, "py": 25, "s": 9},
    {"t": "P", "px": 95, "py": 32, "s": 13},
    {"t": "o", "px": 104, "py": 24, "s": 9},
    {"t": "calculation, conv. 1.4 meV", "px": 293, "py": 56, "s": 13},
    {"t": "experiment, Harries et al.", "px": 293, "py": 72, "s": 13},
])
sup_layer = alt.Chart(sup).mark_text(align="left", baseline="alphabetic", font=FONT, color="#111").encode(
    x=alt.X("px:Q", scale=None), y=alt.Y("py:Q", scale=None), text="t:N",
    size=alt.Size("s:Q", scale=None),
)

leg = pd.DataFrame([
    {"x1": 263, "x2": 287, "yy": 51, "c": "#e8211d"},
    {"x1": 263, "x2": 287, "yy": 67, "c": "#111111"},
])
leg_layer = alt.Chart(leg).mark_rule(strokeWidth=1.3).encode(
    x=alt.X("x1:Q", scale=None), x2="x2:Q", y=alt.Y("yy:Q", scale=None),
    color=alt.Color("c:N", scale=None),
)

chart = alt.layer(exp_layer, calc_layer, minor_layer, labels, ann_layer, sup_layer, leg_layer).properties(
    width=W, height=H,
    autosize=alt.AutoSizeParams(type="none"),
    padding={"left": 62, "top": 9, "right": 13, "bottom": 61},
).configure_view(stroke=None).configure(background="white")

chart.save("out.html", embed_options={"renderer": "svg", "actions": False})
